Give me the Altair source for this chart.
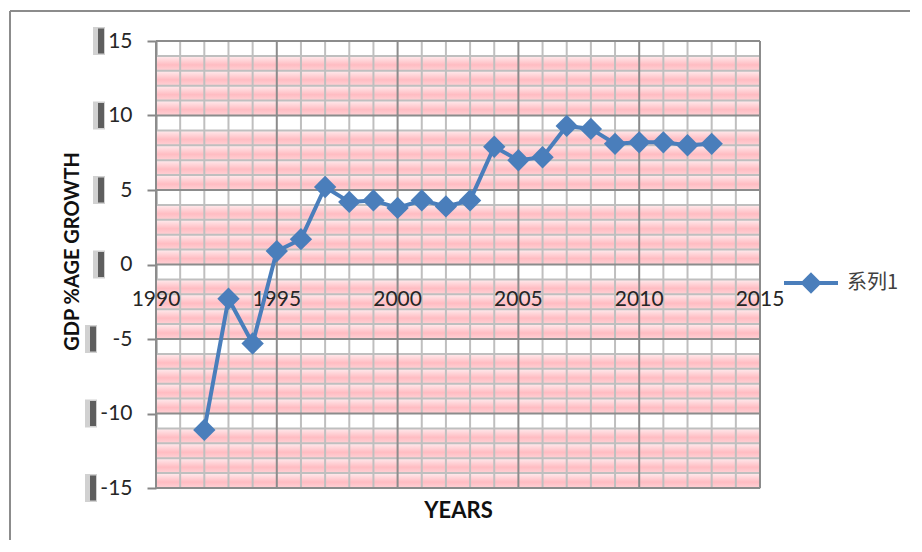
import altair as alt
import pandas as pd

# ---- data ----
years = [1992, 1993, 1994, 1995, 1996, 1997, 1998, 1999, 2000, 2001, 2002,
         2003, 2004, 2005, 2006, 2007, 2008, 2009, 2010, 2011, 2012, 2013]
gdp = [-11.1, -2.3, -5.3, 0.9, 1.7, 5.2, 4.2, 4.3, 3.8, 4.3, 3.9,
       4.3, 7.9, 7.0, 7.2, 9.3, 9.1, 8.1, 8.2, 8.2, 8.0, 8.1]
series_name = "系列1"
x_ticks = [1990, 1995, 2000, 2005, 2010, 2015]
y_ticks = [-15, -10, -5, 0, 5, 10, 15]
x_title = "YEARS"
y_title = "GDP %AGE GROWTH"

W, H = 604, 447
BLUE = "#4a7ebb"
FONT = "Lato"

df = pd.DataFrame({"year": years, "gdp": gdp, "series": series_name})

xs = alt.Scale(domain=[x_ticks[0], x_ticks[-1]], nice=False, zero=False)
ys = alt.Scale(domain=[y_ticks[0], y_ticks[-1]], nice=False, zero=False)

xaxis = alt.Axis(values=x_ticks, domain=False, ticks=False, grid=False, labels=False,
                 titleFont=FONT, titleFontSize=22, titleFontWeight="bold",
                 titleColor="#111111", titleY=22, titleBaseline="middle")
yaxis = alt.Axis(values=y_ticks, grid=False, tickSize=9, tickWidth=2, tickColor="#868686",
                 domainColor="#868686", domainWidth=2,
                 labelExpr="'' + datum.value",
                 labelFont=FONT, labelFontSize=21, labelColor="#262626", labelPadding=15,
                 titleFont=FONT, titleFontSize=20, titleFontWeight="bold", titleColor="#111111",
                 titleAngle=270, titleX=-78, titleY=210, titleAlign="center",
                 titleBaseline="alphabetic")


def xenc(field):
    return alt.X(field, type="quantitative", scale=xs, axis=xaxis, title=x_title)


def yenc(field):
    return alt.Y(field, type="quantitative", scale=ys, axis=yaxis, title=y_title)


# pink bands (every 1-unit row except the one just below each multiple of 5)
lo = [v for v in range(y_ticks[0], y_ticks[-1]) if (v + 1) % 5 != 0]
rows = pd.DataFrame({"lo": lo, "hi": [v + 1 for v in lo]})
pink = alt.Gradient(gradient="linear", x1=0, x2=0, y1=0, y2=1,
                    stops=[alt.GradientStop(color="#ffecee", offset=0),
                           alt.GradientStop(color="#ffbcc2", offset=0.6),
                           alt.GradientStop(color="#ffd2d6", offset=1)])
bands = alt.Chart(rows).mark_rect(color=pink).encode(
    y=yenc("lo"), y2="hi", x=alt.value(0), x2=alt.value(W))

vg = pd.DataFrame({"year": list(range(x_ticks[0], x_ticks[-1] + 1))})
vg["major"] = vg["year"] % 5 == 0
hg = pd.DataFrame({"v": list(range(y_ticks[0], y_ticks[-1] + 1))})
hg["major"] = hg["v"] % 5 == 0

vminor = alt.Chart(vg).transform_filter("!datum.major").mark_rule(
    color="#bfbfbf", strokeWidth=2).encode(x=xenc("year"), y=alt.value(0), y2=alt.value(H))
hminor = alt.Chart(hg).transform_filter("!datum.major").mark_rule(
    color="#bfbfbf", strokeWidth=2).encode(y=yenc("v"), x=alt.value(0), x2=alt.value(W))
vmajor = alt.Chart(vg).transform_filter("datum.major").mark_rule(
    color="#8c8c8c", strokeWidth=2).encode(x=xenc("year"), y=alt.value(0), y2=alt.value(H))
hmajor = alt.Chart(hg).transform_filter("datum.major").mark_rule(
    color="#8c8c8c", strokeWidth=2).encode(y=yenc("v"), x=alt.value(0), x2=alt.value(W))

# x tick labels sit just below the zero line (horizontal axis crosses at 0)
xl = pd.DataFrame({"year": x_ticks, "zero": [0] * len(x_ticks)})
xlabels = alt.Chart(xl).mark_text(font=FONT, fontSize=21, color="#262626",
                                  baseline="top", align="center", dy=24).encode(
    x=xenc("year"), y=yenc("zero"), text=alt.Text("year:Q", format="d"))

# label box shadows on the y axis (left of each label box)
yt_pos = pd.DataFrame({"v": [v for v in y_ticks if v >= 0]})
yt_neg = pd.DataFrame({"v": [v for v in y_ticks if v < 0]})


def shadow_layers(data, xpos):
    soft = alt.Chart(data).mark_tick(orient="vertical", thickness=12, size=28,
                                     color="#9a9a9a", opacity=0.45).encode(
        y=yenc("v"), x=alt.value(xpos - 2))
    hard = alt.Chart(data).mark_tick(orient="vertical", thickness=6, size=25,
                                     color="#4a4a4a", opacity=0.85).encode(
        y=yenc("v"), x=alt.value(xpos))
    return [soft, hard]


shadows = shadow_layers(yt_pos, -55) + shadow_layers(yt_neg, -63)

legend_path = "M-1,0L1,0M0,-0.29L0.29,0L0,0.29L-0.29,0Z"
line = alt.Chart(df).mark_line(strokeWidth=4).encode(
    x=xenc("year"), y=yenc("gdp"),
    color=alt.Color("series:N", scale=alt.Scale(domain=[series_name], range=[BLUE]),
                    legend=alt.Legend(title=None, orient="none", legendX=626, legendY=213,
                                      symbolType=legend_path, symbolSize=2916,
                                      symbolStrokeWidth=4, symbolFillColor=BLUE,
                                      labelFont="Noto Sans CJK SC", labelFontSize=20,
                                      labelColor="#404040", labelOffset=7, padding=0)))
points = alt.Chart(df).mark_point(shape="diamond", filled=True, size=500, opacity=1,
                                  color=BLUE).encode(x=xenc("year"), y=yenc("gdp"))

frame_df = pd.DataFrame({"a": [0]})
left_border = alt.Chart(frame_df).mark_rule(color="#8c8c8c", strokeWidth=2).encode(
    x=alt.value(-146), y=alt.value(-30), y2=alt.value(H + 80))
top_border = alt.Chart(frame_df).mark_rule(color="#8c8c8c", strokeWidth=2).encode(
    y=alt.value(-30), x=alt.value(-146), x2=alt.value(W + 170))

chart = alt.layer(bands, vminor, hminor, vmajor, hmajor, xlabels, *shadows,
                  left_border, top_border, line, points).properties(
    width=W, height=H,
    autosize=alt.AutoSizeParams(type="none"),
    padding={"left": 148, "top": 33, "right": 150, "bottom": 52},
).configure_view(stroke=None).configure(background="white")

chart.save("out.html", embed_options={"renderer": "svg", "actions": False})
